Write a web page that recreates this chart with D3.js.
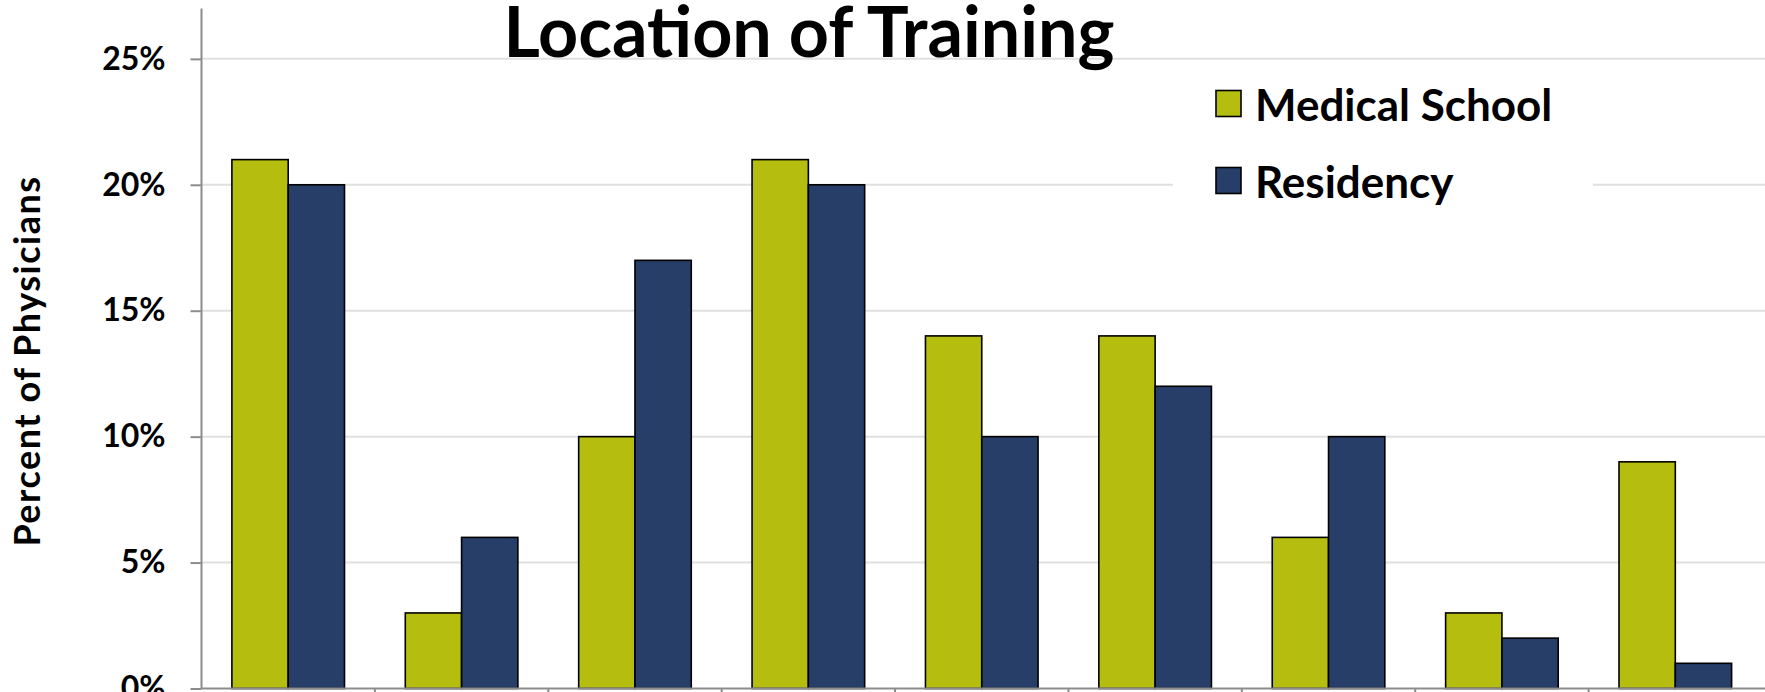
<!DOCTYPE html>
<html>
<head>
<meta charset="utf-8">
<script src="https://cdn.jsdelivr.net/npm/d3@7"></script>
<style>
  body { margin: 0; background: #fff; }
  svg { display: block; font-family: Lato, "Open Sans", sans-serif; font-weight: 700; }
</style>
</head>
<body>
<div id="chart"></div>
<script>
// category labels sit below the visible area in the source, so they are not drawn
const categories = ["Loc 1", "Loc 2", "Loc 3", "Loc 4", "Loc 5", "Loc 6", "Loc 7", "Loc 8", "Loc 9"];
const seriesNames = ["Medical School", "Residency"];
const medicalSchool = [0.21, 0.03, 0.10, 0.21, 0.14, 0.14, 0.06, 0.03, 0.09];
const residency = [0.20, 0.06, 0.17, 0.20, 0.10, 0.12, 0.10, 0.02, 0.01];
const yTicks = [0, 0.05, 0.10, 0.15, 0.20, 0.25];

function createChart() {
  const width = 1765;
  const height = 692;
  const marginLeft = 201.5;
  const marginRight = 3;
  const yBottom = 688.5;
  const yTop = 8.5;

  const colors = ["#b5be0e", "#263e68"];
  const rows = categories.map((c, i) => ({cat: c, values: [medicalSchool[i], residency[i]]}));

  const x0 = d3.scaleBand()
    .domain(categories)
    .range([marginLeft, width - marginRight])
    .padding(0);

  const x1 = d3.scaleBand()
    .domain(seriesNames)
    .range([0, x0.bandwidth()])
    .paddingInner(0)
    .paddingOuter(0.54);

  const y = d3.scaleLinear()
    .domain([0, 0.27])
    .range([yBottom, yTop]);

  const color = d3.scaleOrdinal().domain(seriesNames).range(colors);

  const svg = d3.select("#chart").append("svg")
    .attr("width", width)
    .attr("height", height)
    .attr("viewBox", [0, 0, width, height]);

  // gridlines
  svg.append("g")
    .selectAll("line")
    .data(yTicks.filter(d => d > 0))
    .join("line")
      .attr("x1", marginLeft)
      .attr("x2", width)
      .attr("y1", d => y(d))
      .attr("y2", d => y(d))
      .attr("stroke", "#e0e0e0")
      .attr("stroke-width", 2);

  // bars
  svg.append("g")
    .selectAll("g")
    .data(rows)
    .join("g")
      .attr("transform", d => `translate(${x0(d.cat)},0)`)
    .selectAll("rect")
    .data(d => d.values.map((v, j) => ({key: seriesNames[j], value: v})))
    .join("rect")
      .attr("x", d => x1(d.key))
      .attr("y", d => y(d.value))
      .attr("width", x1.bandwidth())
      .attr("height", d => y(0) - y(d.value))
      .attr("fill", d => color(d.key))
      .attr("stroke", "#000")
      .attr("stroke-width", 1.6);

  // y axis
  const yAxis = svg.append("g")
    .attr("transform", `translate(${marginLeft},0)`)
    .call(d3.axisLeft(y).tickValues(yTicks).tickFormat(d3.format(".0%")).tickSize(11).tickPadding(25));
  yAxis.select(".domain").remove();
  yAxis.append("line")
    .attr("y1", yTop)
    .attr("y2", yBottom)
    .attr("stroke", "#8c8c8c")
    .attr("stroke-width", 2);
  yAxis.selectAll(".tick line").attr("stroke", "#8c8c8c").attr("stroke-width", 2);
  yAxis.selectAll(".tick text")
    .attr("fill", "#000")
    .attr("font-family", "Lato, sans-serif")
    .attr("font-weight", 700)
    .attr("font-size", 32);

  // x axis: baseline with ticks at category boundaries
  const xAxis = svg.append("g");
  xAxis.append("line")
    .attr("x1", marginLeft)
    .attr("x2", width)
    .attr("y1", yBottom)
    .attr("y2", yBottom)
    .attr("stroke", "#8c8c8c")
    .attr("stroke-width", 2);
  xAxis.selectAll(".xtick")
    .data(categories.slice(1))
    .join("line")
      .attr("class", "xtick")
      .attr("x1", d => x0(d))
      .attr("x2", d => x0(d))
      .attr("y1", yBottom)
      .attr("y2", yBottom + 10)
      .attr("stroke", "#8c8c8c")
      .attr("stroke-width", 2);

  // y label
  svg.append("text")
    .attr("transform", `translate(40,361) rotate(-90)`)
    .attr("text-anchor", "middle")
    .attr("font-size", 36)
    .attr("letter-spacing", 1.5)
    .text("Percent of Physicians");

  // title
  svg.append("text")
    .attr("x", 809)
    .attr("y", 57)
    .attr("text-anchor", "middle")
    .attr("font-size", 70)
    .text("Location of Training");

  // legend
  const legend = svg.append("g");
  legend.append("rect")
    .attr("x", 1173)
    .attr("y", 66)
    .attr("width", 420)
    .attr("height", 150)
    .attr("fill", "#fff");

  const item = legend.selectAll(".item")
    .data(seriesNames)
    .join("g")
      .attr("class", "item")
      .attr("transform", (d, i) => `translate(1216,${103.5 + i * 77})`);
  item.append("rect")
    .attr("x", 0)
    .attr("y", -13)
    .attr("width", 25)
    .attr("height", 26)
    .attr("fill", d => color(d))
    .attr("stroke", "#000")
    .attr("stroke-width", 1.6);
  item.append("text")
    .attr("x", 39)
    .attr("y", 0)
    .attr("dominant-baseline", "central")
    .attr("font-size", 44)
    .text(d => d);

  return svg.node();
}

createChart();
</script>
</body>
</html>
